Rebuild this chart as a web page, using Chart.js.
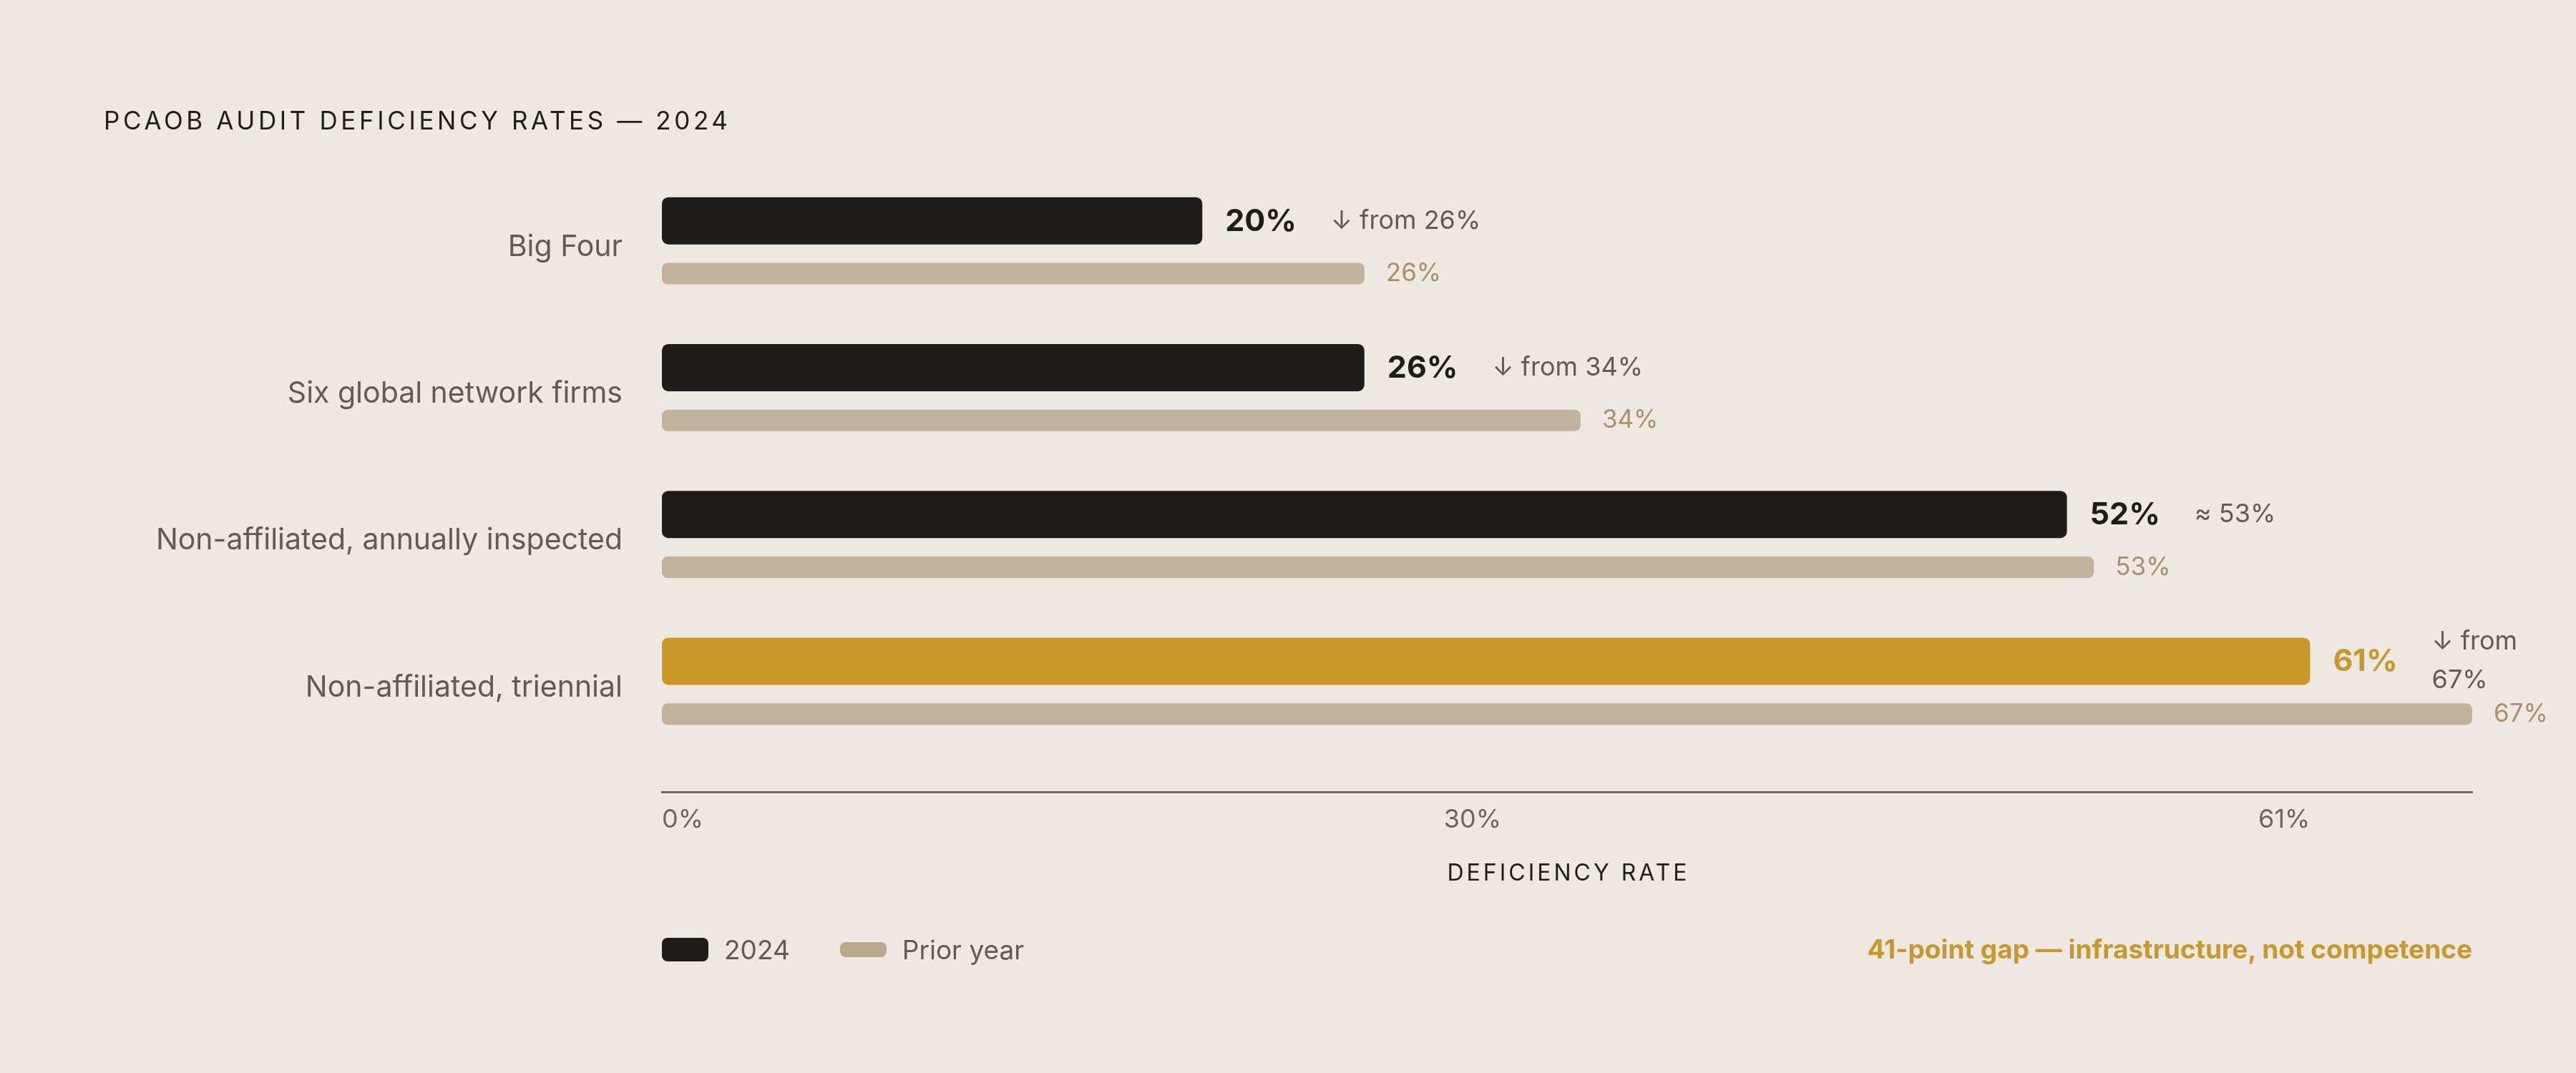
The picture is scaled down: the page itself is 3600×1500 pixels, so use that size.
<!DOCTYPE html>
<html lang="en">
<head>
    <meta charset="UTF-8">
    <title>PCAOB Audit Deficiency Rates</title>
    <script src="https://cdn.jsdelivr.net/npm/chart.js"></script>
    <style>
        body { margin: 0; background: #ede9e2; font-family: Inter, "Open Sans", sans-serif; }
        #wrap { position: relative; width: 3600px; height: 1500px; }
        canvas { position: absolute; left: 0; top: 0; }
        .title { position: absolute; left: 145px; top: 148px; font-size: 35px; line-height: 40px; letter-spacing: 4.6px; color: #1f1d1a; }
        .legend { position: absolute; left: 925px; top: 1302px; height: 50px; display: flex; align-items: center; font-size: 37px; color: #5f5b55; }
        .sw { display: inline-block; width: 65px; border-radius: 8px; margin-right: 22px; }
        .note { position: absolute; right: 145px; top: 1302px; height: 50px; line-height: 50px; font-size: 37px; font-weight: 700; color: #c8982b; }
    </style>
</head>
<body>
<div id="wrap">
    <canvas id="chart" width="3600" height="1500"></canvas>
    <div class="title">PCAOB AUDIT DEFICIENCY RATES — 2024</div>
    <div class="legend">
        <span class="sw" style="height:33px;background:#1f1d1a"></span><span>2024</span>
        <span class="sw" style="height:21px;background:#b9a98b;margin-left:70px"></span><span>Prior year</span>
    </div>
    <div class="note">41-point gap — infrastructure, not competence</div>
</div>

<script>
    // data
    const categories = ["Big Four", "Six global network firms", "Non-affiliated, annually inspected", "Non-affiliated, triennial"];
    const current = [20, 26, 52, 61];
    const prior = [26, 34, 53, 67];
    const notes = ["↓ from 26%", "↓ from 34%", "≈ 53%", "↓ from 67%"];
    const xTicks = [0, 30, 61];
    const highlight = 3;

    const DARK = "#1f1d1a", GOLD = "#c8982b", TAN = "#c2b29c", GRAY = "#5f5b55";
    const FONT = "Inter, 'Open Sans', sans-serif";

    // value labels next to the bars
    const barLabels = {
        id: "barLabels",
        afterDatasetsDraw(chart) {
            const ctx = chart.ctx;
            const cur = chart.getDatasetMeta(0).data;
            const pri = chart.getDatasetMeta(1).data;
            const right = chart.chartArea.right;
            ctx.save();
            ctx.textBaseline = "middle";
            ctx.textAlign = "left";
            cur.forEach((bar, i) => {
                let x = bar.x + 32;
                ctx.font = "700 43px " + FONT;
                ctx.fillStyle = i === highlight ? GOLD : DARK;
                let txt = current[i] + "%";
                ctx.fillText(txt, x, bar.y + 1);
                x += ctx.measureText(txt).width + 48;
                ctx.font = "400 36px " + FONT;
                ctx.fillStyle = GRAY;
                if (x + ctx.measureText(notes[i]).width > right) {
                    let k = notes[i].lastIndexOf(" ");
                    ctx.fillText(notes[i].slice(0, k), x, bar.y - 27);
                    ctx.fillText(notes[i].slice(k + 1), x, bar.y + 27);
                } else {
                    ctx.fillText(notes[i], x, bar.y);
                }
            });
            ctx.font = "400 35px " + FONT;
            ctx.fillStyle = "#a88f6d";
            pri.forEach((bar, i) => {
                ctx.fillText(prior[i] + "%", bar.x + 30, bar.y);
            });
            // axis title
            const xs = chart.scales.x;
            ctx.font = "400 32px " + FONT;
            ctx.fillStyle = DARK;
            ctx.textAlign = "center";
            ctx.letterSpacing = "4px";
            ctx.fillText("DEFICIENCY RATE", (xs.left + xs.right) / 2 + 2, xs._borderValue + 114);
            ctx.restore();
        }
    };

    let ctx = document.getElementById("chart").getContext("2d");
    let chart = new Chart(ctx, {
        type: "bar",
        data: {
            labels: categories,
            datasets: [{
                label: "2024",
                data: current,
                backgroundColor: current.map((v, i) => i === highlight ? GOLD : DARK),
                borderRadius: 9,
                borderSkipped: false,
                maxBarThickness: 66,
                barPercentage: 1,
                categoryPercentage: 0.72
            }, {
                label: "Prior year",
                data: prior,
                backgroundColor: TAN,
                borderRadius: 8,
                borderSkipped: false,
                maxBarThickness: 30,
                barPercentage: 1,
                categoryPercentage: 0.72
            }]
        },
        options: {
            indexAxis: "y",
            responsive: false,
            devicePixelRatio: 1,
            animation: false,
            layout: { padding: { left: 0, right: 145, top: 243, bottom: 436 } },
            plugins: { legend: { display: false }, tooltip: { enabled: false } },
            scales: {
                x: {
                    min: 0,
                    max: 67,
                    position: { y: 3.714 },
                    afterBuildTicks(s) { s.ticks = xTicks.map(v => ({ value: v })); },
                    grid: { display: false, drawTicks: false },
                    border: { display: true, color: "#6b6862", width: 3 },
                    ticks: {
                        align: "inner",
                        padding: 17,
                        color: "#6b6760",
                        font: { family: FONT, size: 36 },
                        callback: v => v + "%"
                    }
                },
                y: {
                    afterFit(s) { s.width = 925; },
                    grid: { display: false, drawTicks: false },
                    border: { display: false },
                    ticks: {
                        padding: 55,
                        color: GRAY,
                        font: { family: FONT, size: 41 }
                    }
                }
            }
        },
        plugins: [barLabels]
    });
</script>
</body>
</html>
